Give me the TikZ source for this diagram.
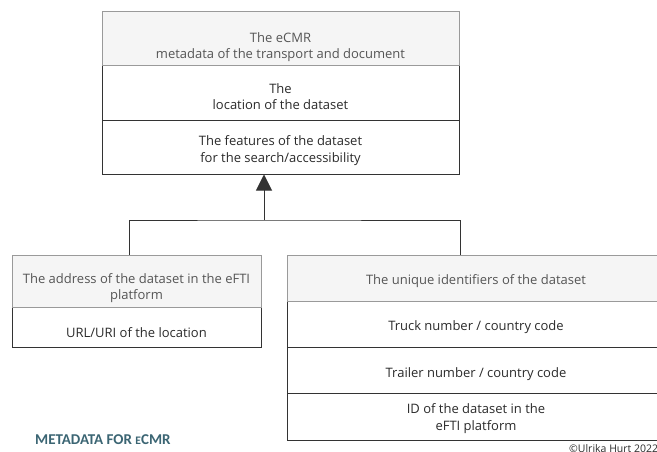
\documentclass[tikz,border=0pt]{standalone}
\usepackage{fontspec}
\setmainfont{Open Sans}
\newfontfamily\titlefont{Carlito}
\usetikzlibrary{arrows.meta}
\definecolor{hdrfill}{HTML}{F5F5F5}
\definecolor{hdrline}{HTML}{9A9A9A}
\definecolor{bodyline}{HTML}{333333}
\definecolor{txt}{HTML}{2B2B2B}
\definecolor{captionteal}{HTML}{3B6573}
\tikzset{
  cell/.style={draw=bodyline, line width=1pt, fill=white, inner sep=0pt},
  hdrcell/.style={cell, draw=hdrline, fill=hdrfill},
  celltext/.style={inner sep=0pt, align=center, text=txt,
    font=\fontsize{13}{16.5}\selectfont},
  hdrtext/.style={celltext, text=txt!80!white},
  link/.style={draw=bodyline, line width=1pt}
}
\begin{document}
\begin{tikzpicture}[x=1pt,y=-1pt]
\useasboundingbox (0,0) rectangle (657,452);
\clip (0,0) rectangle (657,452);

% upper class box
\node[cell, minimum width=357, minimum height=55] (t2) at (280.5,93.5) {};
\node[cell, minimum width=357, minimum height=53] (t3) at (280.5,147.5) {};
\node[hdrcell, minimum width=357, minimum height=54] (t1) at (280.5,39) {};
\node[hdrtext] (t1txt) at ([yshift=-8]t1.center) {The eCMR\\metadata of the transport and document};
\node[celltext] (t2txt) at ([yshift=-3]t2.center) {The\\location of the dataset};
\node[celltext] (t3txt) at ([yshift=-3]t3.center) {The features of the dataset\\for the search/accessibility};

% address box
\node[cell, minimum width=249, minimum height=40] (l2) at (136.5,327) {};
\node[hdrcell, minimum width=249, minimum height=52] (l1) at (136.5,281) {};
\node[hdrtext] (l1txt) at ([yshift=-7]l1.center) {The address of the dataset in the eFTI\\platform};
\node[celltext] (l2txt) at ([yshift=-6]l2.center) {URL/URI of the location};

% identifiers box
\node[cell, minimum width=378, minimum height=46] (r2) at (476,324) {};
\node[cell, minimum width=378, minimum height=46] (r3) at (476,370) {};
\node[cell, minimum width=378, minimum height=47] (r4) at (476,416.5) {};
\node[hdrcell, minimum width=378, minimum height=46] (r1) at (476,278) {};
\node[hdrtext] (r1txt) at ([yshift=-3]r1.center) {The unique identifiers of the dataset};
\node[celltext] (r2txt) at ([yshift=-3]r2.center) {Truck number / country code};
\node[celltext] (r3txt) at ([yshift=-4]r3.center) {Trailer number / country code};
\node[celltext] (r4txt) at ([yshift=-2]r4.center) {ID of the dataset in the\\eFTI platform};

% generalisation connector
\coordinate (j) at (264,220);
\draw[link] ([xshift=-7.5]l1.north) |- (j) -| ([xshift=-16]r1.north);
\draw[link, -{Triangle[width=16pt,length=16pt]}] (j) -- (t3.south -| j);

% captions
\node[anchor=west, inner sep=0pt, text=captionteal, font=\titlefont\bfseries\fontsize{15}{17}\selectfont] (cap) at (35,440)
  {METADATA FOR {\fontsize{11.5}{12}\selectfont E}CMR};
\node[anchor=west, inner sep=0pt, text=txt, font=\fontsize{10.5}{12}\selectfont] (copy) at (569,449) {©Ulrika Hurt 2022};
\end{tikzpicture}
\end{document}
